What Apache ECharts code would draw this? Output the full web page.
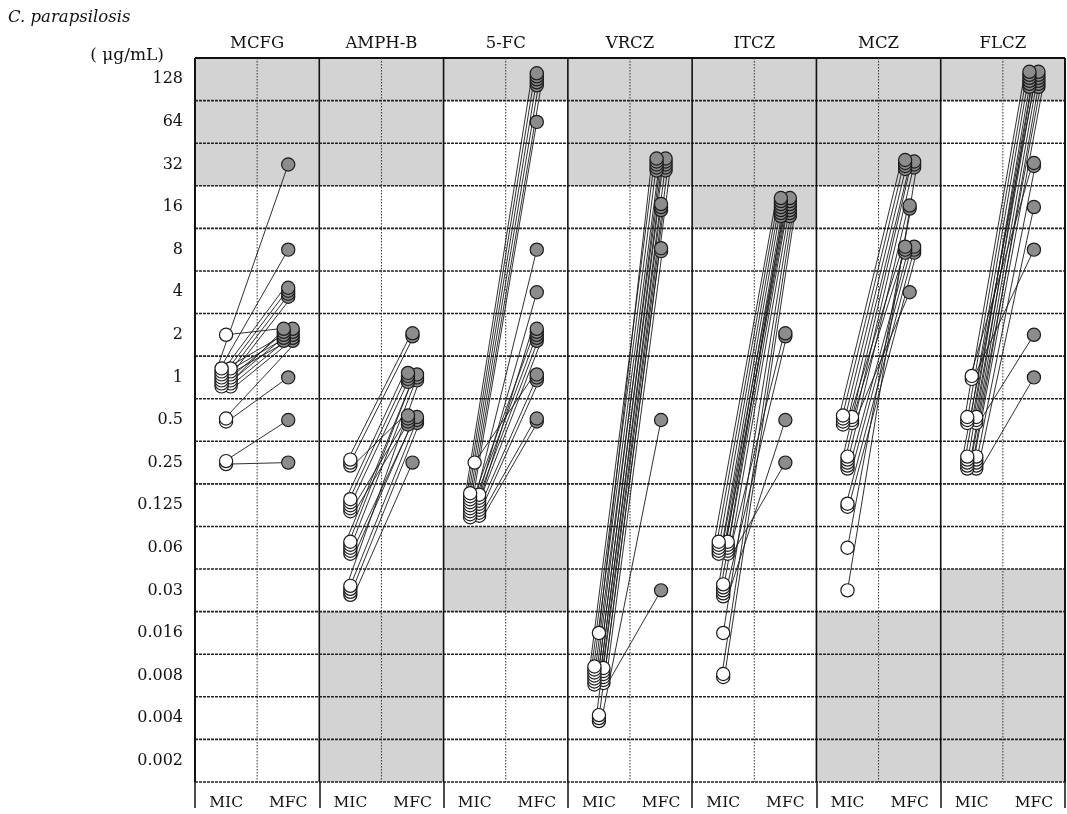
<!DOCTYPE html>
<html><head><meta charset="utf-8">
<script src="https://cdn.jsdelivr.net/npm/echarts@6/dist/echarts.min.js"></script>
<style>html,body{margin:0;padding:0;background:#fff}#c{width:1067px;height:814px}</style>
</head><body><div id="c"></div>
<script>
// ---------- data ----------
const chartTitle = 'C. parapsilosis';
const unitText = '( μg/mL)';
const concLabels = ['0.002','0.004','0.008','0.016','0.03','0.06','0.125','0.25','0.5','1','2','4','8','16','32','64','128'];
const drugs = ['MCFG','AMPH-B','5-FC','VRCZ','ITCZ','MCZ','FLCZ'];
const columnLabels = ['MIC','MFC'];

// shaded (outside tested range) concentration rows per drug
const shadedMCFG  = ['32','64','128'];
const shadedAMPHB = ['0.002','0.004','0.008','0.016','32','64','128'];
const shaded5FC   = ['0.03','0.06','128'];
const shadedVRCZ  = ['32','64','128'];
const shadedITCZ  = ['16','32','64','128'];
const shadedMCZ   = ['0.002','0.004','0.008','0.016','32','64','128'];
const shadedFLCZ  = ['0.002','0.004','0.008','0.016','0.03','128'];

// isolates: [MIC, MFC, number of isolates]
const pairsMCFG  = [['2','2',1],['1','32',1],['1','8',1],['1','4',4],['1','2',8],['0.5','2',1],['0.5','1',1],['0.25','0.5',1],['0.25','0.25',1]];
const pairsAMPHB = [['0.25','2',2],['0.25','0.5',1],['0.125','1',3],['0.125','0.5',2],['0.06','1',3],['0.06','0.5',2],['0.03','1',1],['0.03','0.5',2],['0.03','0.25',1]];
const pairs5FC   = [['0.25','1',1],['0.125','128',5],['0.125','64',1],['0.125','8',1],['0.125','4',1],['0.125','2',5],['0.125','1',2],['0.125','0.5',2]];
const pairsVRCZ  = [['0.016','32',1],['0.008','32',7],['0.008','16',3],['0.008','8',2],['0.008','0.03',1],['0.004','32',2],['0.004','0.5',1]];
const pairsITCZ  = [['0.06','16',8],['0.06','2',1],['0.06','0.25',1],['0.03','16',3],['0.03','2',1],['0.03','0.5',1],['0.016','16',1],['0.008','16',2]];
const pairsMCZ   = [['0.5','32',4],['0.5','8',2],['0.5','4',1],['0.25','32',2],['0.25','16',1],['0.25','8',2],['0.125','8',2],['0.06','16',1],['0.03','32',1]];
const pairsFLCZ  = [['1','32',1],['1','8',1],['0.5','128',5],['0.5','2',1],['0.25','128',7],['0.25','32',1],['0.25','16',1],['0.25','1',1]];

const pairSets = [pairsMCFG, pairsAMPHB, pairs5FC, pairsVRCZ, pairsITCZ, pairsMCZ, pairsFLCZ];
const shadedSets = [shadedMCFG, shadedAMPHB, shaded5FC, shadedVRCZ, shadedITCZ, shadedMCZ, shadedFLCZ];

// ---------- layout helpers (pixel stacking of identical values) ----------
const STEP = 3, R = 6.6, SUB = 4.5, FAN = 2.4;
const FONT = '"DejaVu Serif", "Liberation Serif", serif';

function layoutStacks(iso, key, other, out) {
  const groups = {};
  iso.forEach(o => { (groups[o[key]] = groups[o[key]] || []).push(o); });
  Object.keys(groups).forEach(g => {
    const arr = groups[g];
    arr.sort((a, b) => b[other] - a[other]);
    const n = arr.length, split = n > 5 ? 2 : 1, per = Math.ceil(n / split);
    arr.forEach((o, i) => {
      const s = Math.floor(i / per), k = i % per;
      const m = s === 0 ? per : n - per;
      const fan = m > 1 ? Math.min(FAN, 9 / (m - 1)) : 0;
      o[out] = { dx: split === 2 ? (s === 0 ? -SUB : SUB) : 0, dy: (k - (m - 1) / 2) * STEP,
                 lx: (k - (m - 1) / 2) * fan, order: s * 100 + k };
    });
  });
}

const lineData = [], circleData = [];
pairSets.forEach((pairs, d) => {
  const iso = [];
  pairs.forEach(([a, b, n]) => { for (let i = 0; i < n; i++) iso.push({ mic: concLabels.indexOf(a), mfc: concLabels.indexOf(b) }); });
  layoutStacks(iso, 'mic', 'mfc', 'pm');
  layoutStacks(iso, 'mfc', 'mic', 'pf');
  const xMic = 2 * d + 0.5, xMfc = 2 * d + 1.5;
  iso.forEach(o => {
    lineData.push([xMic, o.mic + 0.5, xMfc, o.mfc + 0.5, o.pm.dx + o.pm.lx, o.pm.dy, o.pf.dx + o.pf.lx, o.pf.dy]);
    circleData.push([xMic, o.mic + 0.5, o.pm.dx, o.pm.dy, 0, o.pm.order]);
    circleData.push([xMfc, o.mfc + 0.5, o.pf.dx, o.pf.dy, 1, o.pf.order]);
  });
});
circleData.sort((a, b) => b[5] - a[5]);

const shadeData = [];
shadedSets.forEach((rows, d) => rows.forEach(r => shadeData.push([d, concLabels.indexOf(r)])));

const nRows = concLabels.length, nCols = drugs.length * 2;
const hLines = [], vLines = [];
for (let r = 0; r <= nRows; r++) hLines.push([r]);
for (let c = 0; c <= nCols; c++) vLines.push([c]);

const chart = echarts.init(document.getElementById('c'), null, { renderer: 'canvas' });
chart.setOption({
  animation: false,
  backgroundColor: '#fff',
  textStyle: { fontFamily: FONT },
  graphic: [
    { type: 'text', left: 8, top: 9, style: { text: chartTitle, font: 'italic 16.5px ' + FONT, fill: '#111' } },
    { type: 'text', right: 1067 - 164, top: 47, style: { text: unitText, font: '17px ' + FONT, fill: '#111' } }
  ],
  grid: { left: 195, right: 2, top: 58, bottom: 32, containLabel: false },
  xAxis: [
    { type: 'value', min: 0, max: nCols, interval: 1, position: 'bottom',
      splitLine: { show: false }, axisLine: { show: false },
      axisTick: { show: true, customValues: [0,2,4,6,8,10,12,14], length: 26, lineStyle: { color: '#111', width: 1.5 } },
      axisLabel: { customValues: [0.5,1.5,2.5,3.5,4.5,5.5,6.5,7.5,8.5,9.5,10.5,11.5,12.5,13.5], margin: 13,
        formatter: v => columnLabels[Math.floor(v) % 2], color: '#111', fontSize: 15.5, fontFamily: FONT } },
    { type: 'value', min: 0, max: nCols, interval: 1, position: 'top',
      splitLine: { show: false }, axisLine: { show: false }, axisTick: { show: false },
      axisLabel: { customValues: [1,3,5,7,9,11,13], margin: 6,
        formatter: v => drugs[Math.round((v - 1) / 2)], color: '#111', fontSize: 16.5, fontFamily: FONT } }
  ],
  yAxis: [
    { type: 'value', min: 0, max: nRows, interval: 1,
      splitLine: { show: false }, axisLine: { show: false }, axisTick: { show: false },
      axisLabel: { customValues: concLabels.map((_, i) => i + 0.5), margin: 12,
        formatter: v => concLabels[Math.floor(v)], color: '#111', fontSize: 16, fontFamily: FONT } }
  ],
  series: [
    { type: 'custom', name: 'shade', z: 1, silent: true, data: shadeData,
      renderItem: (p, api) => {
        const d = api.value(0), r = api.value(1);
        const a = api.coord([2 * d, r + 1]), b = api.coord([2 * d + 2, r]);
        return { type: 'rect', shape: { x: a[0], y: a[1], width: b[0] - a[0], height: b[1] - a[1] }, style: { fill: '#d3d3d3' } };
      } },
    { type: 'custom', name: 'hgrid', z: 2, silent: true, data: hLines,
      renderItem: (p, api) => {
        const r = api.value(0);
        const a = api.coord([0, r]), b = api.coord([nCols, r]);
        const top = r === nRows;
        return { type: 'line', shape: { x1: a[0], y1: a[1], x2: b[0], y2: b[1] },
          style: top ? { stroke: '#111', lineWidth: 2 } : { stroke: '#222', lineWidth: 1.6, lineDash: [3, 1] } };
      } },
    { type: 'custom', name: 'vgrid', z: 2, silent: true, data: vLines,
      renderItem: (p, api) => {
        const c = api.value(0);
        const a = api.coord([c, nRows]), b = api.coord([c, 0]);
        const major = c % 2 === 0;
        return { type: 'line', shape: { x1: a[0], y1: a[1], x2: b[0], y2: b[1] },
          style: major ? { stroke: '#111', lineWidth: (c === 0 || c === nCols) ? 2 : 1.6 } : { stroke: '#333', lineWidth: 1, lineDash: [1.5, 1.5] } };
      } },
    { type: 'custom', name: 'links', z: 3, silent: true, data: lineData,
      renderItem: (p, api) => {
        const a = api.coord([api.value(0), api.value(1)]), b = api.coord([api.value(2), api.value(3)]);
        return { type: 'line', shape: { x1: a[0] + api.value(4), y1: a[1] + api.value(5), x2: b[0] + api.value(6), y2: b[1] + api.value(7) },
          style: { stroke: '#1a1a1a', lineWidth: 0.9 } };
      } },
    { type: 'custom', name: 'points', z: 4, silent: true, data: circleData,
      renderItem: (p, api) => {
        const a = api.coord([api.value(0), api.value(1)]);
        const mfc = api.value(4) === 1;
        return { type: 'circle', shape: { cx: a[0] + api.value(2), cy: a[1] + api.value(3), r: R },
          style: { fill: mfc ? '#8c8c8c' : '#ffffff', stroke: '#1a1a1a', lineWidth: 1.2 } };
      } }
  ]
});
</script>
</body></html>
